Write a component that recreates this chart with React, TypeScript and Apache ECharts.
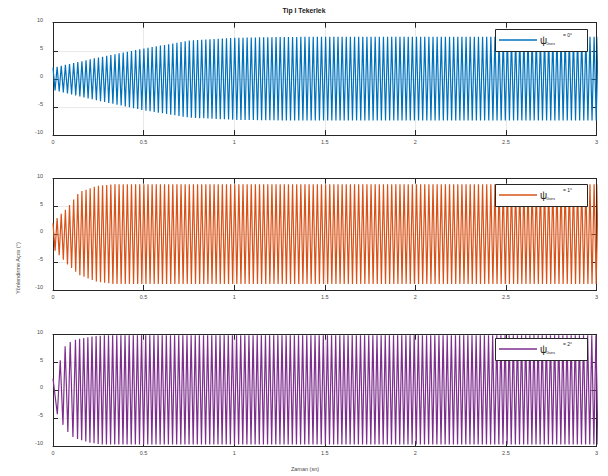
import React, { useEffect, useRef } from "react";
import * as echarts from "echarts";

// ---- data ----
const xTickValues = [0, 0.5, 1, 1.5, 2, 2.5, 3];
const xTickLabels = ["0", "0.5", "1", "1.5", "2", "2.5", "3"];
const yTickValues = [-10, -5, 0, 5, 10];
const yTickLabels = ["-10", "-5", "0", "5", "10"];

const HALF_PERIOD = 0.0114; // s, read from the stripe spacing
const T_END = 3;

// series 1 (ψ = 0°): first turning points + envelope
const blueEarlyT = [0];
const blueEarlyV = [2.0];
const blueEnvT = [0, 0.25, 0.5, 0.75, 1.0, 1.25, 1.5, 3];
const blueEnvHi = [2.0, 3.8, 5.4, 6.8, 7.3, 7.45, 7.5, 7.5];
const blueEnvLo = [-2.0, -3.9, -5.6, -6.9, -7.3, -7.4, -7.4, -7.4];

// series 2 (ψ = 1°)
const orangeEarlyT = [0];
const orangeEarlyV = [2.0];
const orangeEnvT = [0, 0.03, 0.08, 0.145, 0.24, 0.33, 3];
const orangeEnvHi = [2.0, 3.2, 4.8, 7.6, 8.7, 9.0, 9.0];
const orangeEnvLo = [-2.5, -3.6, -5.4, -7.3, -8.5, -8.9, -8.9];

// series 3 (ψ = 2°)
const purpleEarlyT = [0, 0.024, 0.04, 0.055, 0.067, 0.082, 0.095, 0.11, 0.124];
const purpleEarlyV = [2.1, -4.3, 5.4, -6.2, 7.9, -7.5, 8.7, -8.4, 9.1];
const purpleEnvT = [0.124, 0.2, 0.28, 3];
const purpleEnvHi = [9.1, 9.6, 9.9, 9.9];
const purpleEnvLo = [-8.6, -9.4, -9.75, -9.75];

const seriesNames = ["ψ = 0°", "ψ = 1°", "ψ = 2°"];
const legendValues = ["= 0°", "= 1°", "= 2°"];
const colors = ["#0072BD", "#D95319", "#7E2F8E"];

const titleText = "Tip I Tekerlek";
const xAxisTitle = "Zaman (sn)";
const yAxisTitle = "Yönlendirme Açısı (°)";

function interp(ts: number[], vs: number[], t: number): number {
  if (t <= ts[0]) return vs[0];
  for (let i = 1; i < ts.length; i++) {
    if (t <= ts[i]) {
      const f = (t - ts[i - 1]) / (ts[i] - ts[i - 1]);
      return vs[i - 1] + f * (vs[i] - vs[i - 1]);
    }
  }
  return vs[vs.length - 1];
}

function build(
  earlyT: number[],
  earlyV: number[],
  envT: number[],
  envHi: number[],
  envLo: number[]
): [number, number][] {
  const pts: [number, number][] = earlyT.map((t, i) => [t, earlyV[i]]);
  let t = earlyT[earlyT.length - 1];
  let up = earlyV[earlyV.length - 1] > 0;
  while (t < T_END + HALF_PERIOD) {
    t += HALF_PERIOD;
    up = !up;
    pts.push([t, interp(envT, up ? envHi : envLo, t)]);
  }
  return pts;
}

const seriesData = [
  build(blueEarlyT, blueEarlyV, blueEnvT, blueEnvHi, blueEnvLo),
  build(orangeEarlyT, orangeEarlyV, orangeEnvT, orangeEnvHi, orangeEnvLo),
  build(purpleEarlyT, purpleEarlyV, purpleEnvT, purpleEnvHi, purpleEnvLo),
];

const FONT = "Liberation Sans, Arial, Helvetica, sans-serif";
const AX = "#262626";
const LBL = "#4a4a4a";

export default function App() {
  const ref = useRef<HTMLDivElement>(null);
  useEffect(() => {
    document.body.style.margin = "0";
    if (!ref.current) return;
    const chart = echarts.init(ref.current, undefined, { renderer: "svg" });

    const gridTops = [22.7, 178.7, 334.7];
    const gridHeights = [112.3, 111.3, 111.3];
    const grids = gridTops.map((top, i) => ({
      left: 53,
      right: 11.5,
      top,
      height: gridHeights[i],
    }));

    const xAxes: any[] = [];
    const yAxes: any[] = [];
    grids.forEach((_, i) => {
      xAxes.push({
        type: "value",
        gridIndex: i,
        min: 0,
        max: 3,
        interval: 0.5,
        position: "bottom",
        axisLine: { show: true, onZero: false, lineStyle: { color: AX, width: 1 } },
        axisTick: { show: true, inside: true, length: 5, lineStyle: { color: AX, width: 1 } },
        axisLabel: {
          show: true,
          margin: 4,
          fontSize: 5.5,
          fontFamily: FONT,
          color: LBL,
          formatter: (v: number) => {
            const k = xTickValues.findIndex((x) => Math.abs(x - v) < 1e-9);
            return k >= 0 ? xTickLabels[k] : "";
          },
        },
        splitLine: { show: true, lineStyle: { color: "#e3e3e3", width: 0.8 } },
      });
      xAxes.push({
        type: "value",
        gridIndex: i,
        min: 0,
        max: 3,
        interval: 0.5,
        position: "top",
        axisLine: { show: true, onZero: false, lineStyle: { color: AX, width: 1 } },
        axisTick: { show: true, inside: true, length: 5, lineStyle: { color: AX, width: 1 } },
        axisLabel: { show: false },
        splitLine: { show: false },
      });
      yAxes.push({
        type: "value",
        gridIndex: i,
        min: -10,
        max: 10,
        interval: 5,
        position: "left",
        axisLine: { show: true, onZero: false, lineStyle: { color: AX, width: 1 } },
        axisTick: { show: true, inside: true, length: 5, lineStyle: { color: AX, width: 1 } },
        axisLabel: {
          show: true,
          margin: 10,
          fontSize: 5.5,
          fontFamily: FONT,
          color: LBL,
          verticalAlign: "bottom",
          formatter: (v: number) => {
            const k = yTickValues.findIndex((y) => Math.abs(y - v) < 1e-9);
            return k >= 0 ? yTickLabels[k] : "";
          },
        },
        splitLine: { show: true, lineStyle: { color: "#e3e3e3", width: 0.8 } },
      });
      yAxes.push({
        type: "value",
        gridIndex: i,
        min: -10,
        max: 10,
        interval: 5,
        position: "right",
        axisLine: { show: true, onZero: false, lineStyle: { color: AX, width: 1 } },
        axisTick: { show: true, inside: true, length: 5, lineStyle: { color: AX, width: 1 } },
        axisLabel: { show: false },
        splitLine: { show: false },
      });
    });

    const series = seriesData.map((d, i) => ({
      type: "line",
      name: seriesNames[i],
      xAxisIndex: i * 2,
      yAxisIndex: i * 2,
      data: d,
      showSymbol: false,
      symbol: "none",
      clip: true,
      lineStyle: { color: colors[i], width: 1.2 },
      itemStyle: { color: colors[i] },
      z: 2,
    }));

    const legendOffsets = [29, 184, 338];
    const graphics: any[] = [
      {
        type: "text",
        x: 304,
        y: 10,
        z: 100,
        style: {
          text: titleText,
          font: `bold 6.8px ${FONT}`,
          fill: "#1a1a1a",
          align: "center",
          verticalAlign: "middle",
        },
      },
      {
        type: "text",
        x: 305,
        y: 469,
        z: 100,
        style: {
          text: xAxisTitle,
          font: `5.5px ${FONT}`,
          fill: LBL,
          align: "center",
          verticalAlign: "middle",
        },
      },
      {
        type: "text",
        x: 18,
        y: 268,
        rotation: Math.PI / 2,
        z: 100,
        style: {
          text: yAxisTitle,
          font: `5.5px ${FONT}`,
          fill: LBL,
          align: "center",
          verticalAlign: "middle",
        },
      },
    ];
    legendOffsets.forEach((y0, i) => {
      graphics.push({
        type: "rect",
        z: 100,
        shape: { x: 495.5, y: y0 + 0.5, width: 92, height: 22 },
        style: { fill: "#ffffff", stroke: AX, lineWidth: 1 },
      });
      graphics.push({
        type: "line",
        z: 101,
        shape: { x1: 499, y1: y0 + 11, x2: 537, y2: y0 + 11 },
        style: { stroke: colors[i], lineWidth: 1.5 },
      });
      graphics.push({
        type: "text",
        z: 101,
        x: 540,
        y: y0 + 11,
        style: {
          text: "ψ",
          font: `10px ${FONT}`,
          fill: "#262626",
          align: "left",
          verticalAlign: "middle",
        },
      });
      graphics.push({
        type: "text",
        z: 101,
        x: 546.5,
        y: y0 + 14,
        style: {
          text: "0ses",
          font: `4px ${FONT}`,
          fill: "#262626",
          align: "left",
          verticalAlign: "middle",
        },
      });
      graphics.push({
        type: "text",
        z: 101,
        x: 563,
        y: y0 + 6,
        style: {
          text: legendValues[i],
          font: `5px ${FONT}`,
          fill: "#262626",
          align: "left",
          verticalAlign: "middle",
        },
      });
    });

    chart.setOption({
      animation: false,
      backgroundColor: "#ffffff",
      grid: grids,
      xAxis: xAxes,
      yAxis: yAxes,
      series,
      graphic: graphics,
    });
    return () => chart.dispose();
  }, []);
  return <div ref={ref} style={{ width: 608, height: 476 }} />;
}
